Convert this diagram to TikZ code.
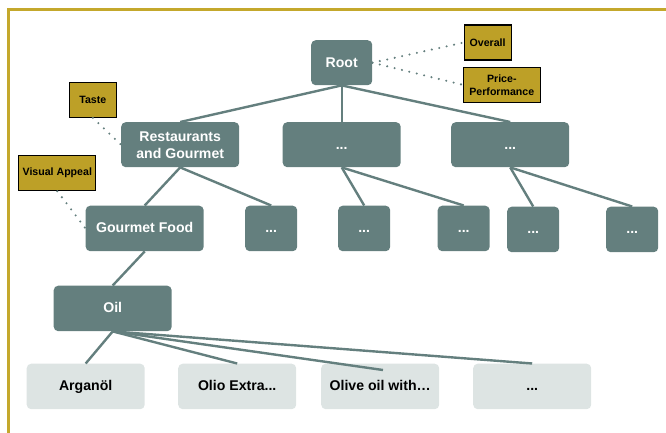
\documentclass[tikz,border=0pt]{standalone}
\usepackage{fontspec}
\setmainfont{Liberation Sans}
\definecolor{teal1}{HTML}{647F7E}
\definecolor{pale}{HTML}{DDE4E3}
\definecolor{gold}{HTML}{BDA027}
\definecolor{framegold}{HTML}{C4A82C}
\tikzset{
  base/.style={rounded corners=4.5pt,inner sep=0pt,align=center,font=\fontsize{14.1}{17}\selectfont\bfseries,anchor=north west},
  single/.style={text height=12pt,text depth=3pt},
  dark/.style={base,fill=teal1,text=white},
  light/.style={base,fill=pale,text=black},
  tag/.style={draw=black,line width=1.2pt,fill=gold,text=black,inner sep=0pt,align=center,anchor=north west,font=\fontsize{10.6}{13}\selectfont\bfseries},
  link/.style={draw=teal1,line width=2.4pt},
  dots/.style={draw=teal1,line width=2.3pt,line cap=round,dash pattern=on 0pt off 7.6pt},
}
\begin{document}
\begin{tikzpicture}[x=1pt,y=-1pt]
\useasboundingbox (0,0) rectangle (666,433);
\draw[framegold,line width=3.2pt] (8.3,433) -- (8.3,9.3) -- (666,9.3);
% tags
\node[tag,minimum width=47pt,minimum height=35pt] (taste) at (68.7,81.7) {Taste};
\node[tag,minimum width=77pt,minimum height=35pt] (visual) at (18.2,155) {Visual Appeal};
\node[tag,minimum width=47pt,minimum height=35pt] (overall) at (463.5,24.5) {Overall};
\node[tag,minimum width=77pt,minimum height=35pt] (price) at (462.7,66.7) {Price-\\Performance};
% boxes
\node[dark,single,minimum width=61pt,minimum height=45pt] (root) at (311,40) {Root};
\node[dark,text height=28.5pt,text depth=0pt,minimum width=118pt,minimum height=45pt] (rest) at (121,122) {Restaurants\\and Gourmet};
\node[dark,single,minimum width=118pt,minimum height=45pt] (mid) at (282.5,122) {...};
\node[dark,single,minimum width=118pt,minimum height=45pt] (right) at (451,122) {...};
\node[dark,single,minimum width=118pt,minimum height=45.5pt] (food) at (85.5,205.5) {Gourmet Food};
\node[dark,single,minimum width=52pt,minimum height=45.5pt] (s1) at (245,205.5) {...};
\node[dark,single,minimum width=52pt,minimum height=45.5pt] (s2) at (338,205.5) {...};
\node[dark,single,minimum width=52pt,minimum height=45.5pt] (s3) at (437.5,205.5) {...};
\node[dark,single,minimum width=52pt,minimum height=45.5pt] (s4) at (507,206.5) {...};
\node[dark,single,minimum width=52pt,minimum height=45.5pt] (s5) at (606,206.5) {...};
\node[dark,single,minimum width=118pt,minimum height=45.5pt] (oil) at (53.5,285.5) {Oil};
\node[light,single,minimum width=118pt,minimum height=45.5pt] (argan) at (26.5,363.5) {Arganöl};
\node[light,single,minimum width=118pt,minimum height=45.5pt] (olio) at (178,363.5) {Olio Extra...};
\node[light,single,minimum width=118pt,minimum height=45.5pt] (olive) at (321,363.5) {Olive oil with…};
\node[light,single,minimum width=118pt,minimum height=45.5pt] (more) at (473,363.5) {...};
\coordinate (oliveend) at (383,370);
% connectors
\draw[link] (root.south) -- (rest.north);
\draw[link] (root.south) -- (mid.north);
\draw[link] (root.south) -- (right.north);
\draw[link] (rest.south) -- (food.north);
\draw[link] (rest.south) -- (s1.north);
\draw[link] (mid.south) -- (s2.north);
\draw[link] (mid.south) -- (s3.north);
\draw[link] (right.south) -- (s4.north);
\draw[link] (right.south) -- (s5.north);
\draw[link] (food.south) -- (oil.north);
\draw[link] (oil.south) -- (argan.north);
\draw[link] (oil.south) -- (olio.north);
\draw[link] (oil.south) -- (oliveend);
\draw[link] (oil.south) -- (more.north);
\draw[dots] (root.east) -- (overall.west);
\draw[dots] (root.east) -- (price.west);
\draw[dots] (taste.south) -- (rest.west);
\draw[dots] (visual.south) -- (food.west);
\end{tikzpicture}
\end{document}
